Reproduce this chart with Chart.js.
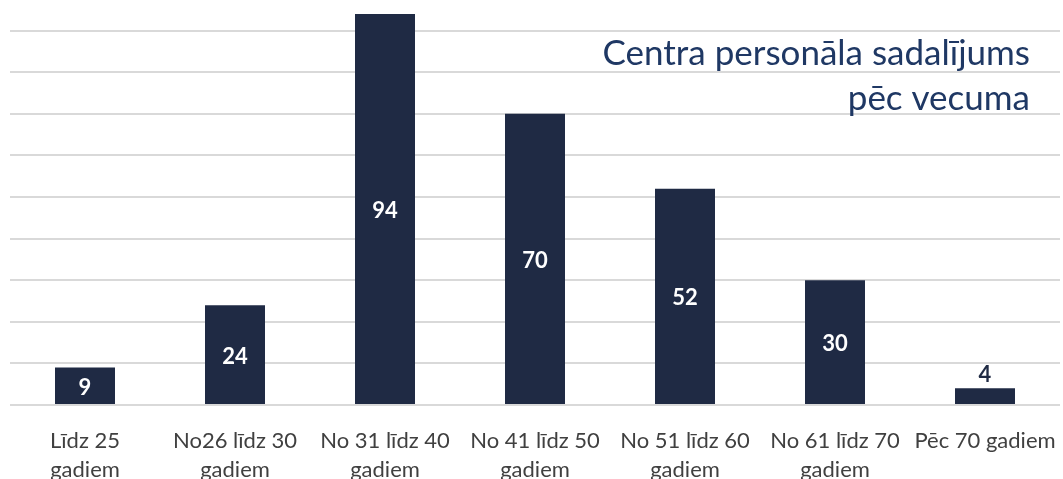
<!DOCTYPE html>
<html>
<head>
<meta charset="utf-8">
<script src="https://cdn.jsdelivr.net/npm/chart.js@4"></script>
<style>
    body { margin: 0; background: #fff; }
    #wrap { width: 1063px; height: 479px; }
</style>
</head>
<body>
<div id="wrap"><canvas id="age-chart" width="1063" height="479"></canvas></div>
<script>
// age breakdown of staff
var ageGroups = [
    ['Līdz 25', 'gadiem'],
    ['No26 līdz 30', 'gadiem'],
    ['No 31 līdz 40', 'gadiem'],
    ['No 41 līdz 50', 'gadiem'],
    ['No 51 līdz 60', 'gadiem'],
    ['No 61 līdz 70', 'gadiem'],
    ['Pēc 70 gadiem']
];
var staffCounts = [9, 24, 94, 70, 52, 30, 4];
var titleLines = ['Centra personāla sadalījums', 'pēc vecuma'];

var barColor = '#1f2a44';

// values written on the bars, small bars get it on top
var barValues = {
    id: 'barValues',
    afterDatasetsDraw: function (chart) {
        var ctx = chart.ctx;
        var meta = chart.getDatasetMeta(0);
        ctx.save();
        ctx.font = 'bold 22px Lato';
        ctx.textAlign = 'center';
        ctx.textBaseline = 'middle';
        meta.data.forEach(function (bar, i) {
            var value = chart.data.datasets[0].data[i];
            var h = bar.base - bar.y;
            if (h < 26) {
                ctx.fillStyle = barColor;
                ctx.fillText(value, bar.x, bar.y - 13);
            } else {
                ctx.fillStyle = '#ffffff';
                ctx.fillText(value, bar.x, (bar.y + bar.base) / 2 + 2);
            }
        });
        ctx.restore();
    }
};

var cornerTitle = {
    id: 'cornerTitle',
    afterDraw: function (chart) {
        var ctx = chart.ctx;
        ctx.save();
        ctx.font = '35px Lato';
        ctx.fillStyle = '#1f3864';
        ctx.textAlign = 'right';
        ctx.textBaseline = 'alphabetic';
        ctx.fillText(titleLines[0], 1030, 65);
        ctx.fillText(titleLines[1], 1030, 110);
        ctx.restore();
    }
};

var ctx = document.getElementById('age-chart').getContext('2d');
var ageChart = new Chart(ctx, {
    type: 'bar',
    data: {
        labels: ageGroups,
        datasets: [{
            label: 'Personāls',
            data: staffCounts,
            backgroundColor: barColor,
            barPercentage: 0.8,
            categoryPercentage: 0.5
        }]
    },
    options: {
        responsive: false,
        animation: false,
        layout: { padding: { left: 10, right: 3, top: 14, bottom: 0 } },
        plugins: {
            legend: { display: false },
            tooltip: { enabled: false }
        },
        scales: {
            x: {
                grid: { display: false },
                border: { display: false },
                afterFit: function (scale) {
                    scale.height = 74;
                    scale.paddingLeft = 0;
                    scale.paddingRight = 0;
                },
                ticks: {
                    color: '#404040',
                    font: { family: 'Lato', size: 22, lineHeight: 1.3 },
                    padding: 14,
                    maxRotation: 0,
                    autoSkip: false
                }
            },
            y: {
                min: 0,
                max: 94,
                border: { display: false },
                grid: {
                    color: function (c) {
                        return c.tick && c.tick.value % 10 === 0 ? '#d9d9d9' : 'transparent';
                    },
                    lineWidth: 2,
                    drawTicks: false
                },
                ticks: { display: false, stepSize: 10 }
            }
        }
    },
    plugins: [barValues, cornerTitle]
});
// end age breakdown
</script>
</body>
</html>
